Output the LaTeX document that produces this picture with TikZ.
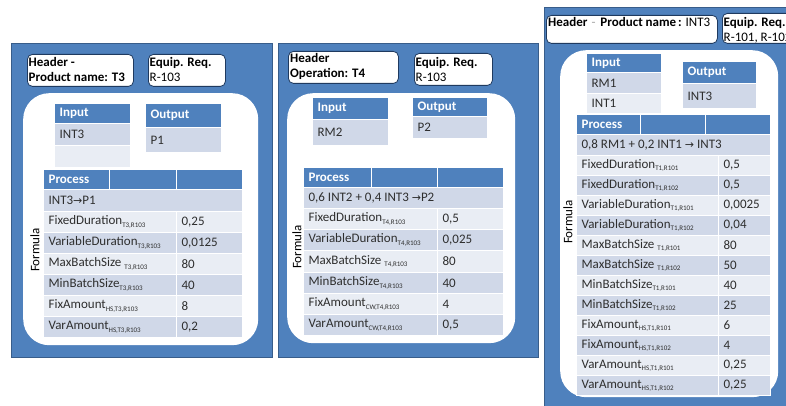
\documentclass[tikz,border=0pt]{standalone}
\usepackage{fontspec}
\setmainfont{Carlito}
\newfontfamily\symf{DejaVu Sans}
\definecolor{pblue}{HTML}{4F81BD}
\definecolor{pedge}{HTML}{385D8A}
\definecolor{cdark}{HTML}{D0D8E8}
\definecolor{clight}{HTML}{E9EDF4}
\definecolor{ctext}{HTML}{2E2E2E}
\definecolor{hedge}{HTML}{1F3A5F}
\newcommand\ssub[1]{\raisebox{-2.6pt}{\fontsize{7}{8}\selectfont #1}}
\newcommand\arr{{\symf\fontsize{11}{12}\selectfont →}}
\newcommand\hd[1]{{\color{white}\bfseries #1}}
\newcommand\cel[7]{% name, x1, y1, x2, y2, fill, text
  \pgfmathsetmacro\celw{#4-#2}\pgfmathsetmacro\celh{#5-#3}%
  \node[cell,fill=#6,minimum width=\celw pt,minimum height=\celh pt] (#1) at (#2,#3) {\makebox[\celw pt][l]{\hspace{5pt}#7}};}
\newcommand\prow[9]{% name, x1, xs, x2, y1, y2, fill, param, value
  \cel{#1a}{#2}{#5}{#3}{#6}{#7}{#8}\cel{#1b}{#3}{#5}{#4}{#6}{#7}{#9}}
\tikzset{
  panel/.style={fill=pblue, draw=pedge, line width=1.2pt, anchor=north west, inner sep=0pt},
  warea/.style={fill=white, rounded corners=26pt, anchor=north west, inner sep=0pt},
  hbox/.style={fill=white, draw=hedge, line width=0.8pt, rounded corners=5pt, anchor=north west, inner sep=0pt},
  htext/.style={anchor=north west, inner sep=0pt, align=left, text=black, font=\fontsize{13}{15}\selectfont},
  cell/.style={draw=white, line width=1.2pt, anchor=north west, inner sep=0pt, text=ctext},
  vlabel/.style={rotate=90, text=black, inner sep=0pt},
}
\begin{document}
\begin{tikzpicture}[x=1pt,y=-1pt,font=\fontsize{13}{15}\selectfont]
\useasboundingbox (0,0) rectangle (786,406);
\clip (0,0) rectangle (786,406);
% ---------------- Panel 1 ----------------
\node[panel, minimum width=261pt, minimum height=314pt] (p1) at (11,43) {};
\node[hbox, minimum width=106pt, minimum height=32pt] (h1) at (27,54) {};
\node[htext] (h1t) at (28.5,57) {\bfseries Header -\\\bfseries Product name: T3};
\node[hbox, minimum width=77pt, minimum height=32pt] (e1) at (148,54) {};
\node[htext] (e1t) at (149.5,57) {\bfseries Equip. Req.\\R-103};
\node[warea, minimum width=235pt, minimum height=252pt] (w1) at (23,93) {};
\cel{i1h}{54}{103}{130}{123}{pblue}{\hd{Input}}
\cel{i1a}{54}{123}{130}{145}{cdark}{INT3}
\cel{i1b}{54}{145}{130}{167}{clight}{}
\cel{o1h}{145}{103}{221}{127}{pblue}{\hd{Output}}
\cel{o1a}{145}{127}{221}{152}{cdark}{P1}
\cel{r1h}{43}{169}{109}{189}{pblue}{\hd{Process}}
\cel{r1hb}{109}{169}{176}{189}{pblue}{}
\cel{r1hc}{176}{169}{242}{189}{pblue}{}
\cel{r1f}{43}{189}{242}{211}{cdark}{INT3\arr P1}
\prow{r1p}{43}{176}{242}{211}{232}{clight}{FixedDuration\ssub{T3,R103}}{0,25}
\prow{r1q}{43}{176}{242}{232}{253}{cdark}{VariableDuration\ssub{T3,R103}}{0,0125}
\prow{r1r}{43}{176}{242}{253}{274}{clight}{MaxBatchSize \ssub{T3,R103}}{80}
\prow{r1s}{43}{176}{242}{274}{295}{cdark}{MinBatchSize\ssub{T3,R103}}{40}
\prow{r1t}{43}{176}{242}{295}{316}{clight}{FixAmount\ssub{HS,T3,R103}}{8}
\prow{r1u}{43}{176}{242}{316}{337}{cdark}{VarAmount\ssub{HS,T3,R103}}{0,2}
\node[vlabel] (f1) at (35,250) {Formula};
% ---------------- Panel 2 ----------------
\node[panel, minimum width=260pt, minimum height=314pt] (p2) at (278,43) {};
\node[hbox, minimum width=110pt, minimum height=32pt] (h2) at (288,51) {};
\node[htext] (h2t) at (290,53.5) {\bfseries Header\\\bfseries Operation: T4};
\node[hbox, minimum width=78pt, minimum height=32pt] (e2) at (414,53) {};
\node[htext] (e2t) at (415.5,57.5) {\bfseries Equip. Req.\\R-103};
\node[warea, minimum width=228pt, minimum height=250pt] (w2) at (287,93) {};
\cel{i2h}{312}{97}{388}{119}{pblue}{\hd{Input}}
\cel{i2a}{312}{119}{388}{145}{cdark}{RM2}
\cel{o2h}{412}{97}{487}{116}{pblue}{\hd{Output}}
\cel{o2a}{412}{116}{487}{138}{cdark}{P2}
\cel{r2h}{303}{167}{371}{187}{pblue}{\hd{Process}}
\cel{r2hb}{371}{167}{437}{187}{pblue}{}
\cel{r2hc}{437}{167}{503}{187}{pblue}{}
\cel{r2f}{303}{187}{503}{208}{cdark}{0,6 INT2 + 0,4 INT3 \arr P2}
\prow{r2p}{303}{437}{503}{208}{229}{clight}{FixedDuration\ssub{T4,R103}}{0,5}
\prow{r2q}{303}{437}{503}{229}{250}{cdark}{VariableDuration\ssub{T4,R103}}{0,025}
\prow{r2r}{303}{437}{503}{250}{272}{clight}{MaxBatchSize \ssub{T4,R103}}{80}
\prow{r2s}{303}{437}{503}{272}{293}{cdark}{MinBatchSize\ssub{T4,R103}}{40}
\prow{r2t}{303}{437}{503}{293}{314}{clight}{FixAmount\ssub{CW,T4,R103}}{4}
\prow{r2u}{303}{437}{503}{314}{335}{cdark}{VarAmount\ssub{CW,T4,R103}}{0,5}
\node[vlabel] (f2) at (297,247) {Formula};
% ---------------- Panel 3 ----------------
\node[panel, minimum width=260pt, minimum height=410pt] (p3) at (544,7) {};
\node[hbox, minimum width=171pt, minimum height=28pt] (h3) at (546,15) {};
\node[htext] (h3t) at (548,17) {\bfseries Header\hspace{4pt}{\mdseries\color{gray!70}-}\hspace{5pt}Product name\hspace{2pt}:\mdseries{} INT3};
\node[hbox, minimum width=80pt, minimum height=30pt] (e3) at (722,13) {};
\node[htext] (e3t) at (723.5,17) {\bfseries Equip. Req.\\R-101, R-102};
\node[warea, minimum width=218pt, minimum height=347pt] (w3) at (560,50) {};
\cel{i3h}{586}{53}{661}{72}{pblue}{\hd{Input}}
\cel{i3a}{586}{72}{661}{93}{cdark}{RM1}
\cel{i3b}{586}{93}{661}{113}{clight}{INT1}
\cel{o3h}{682}{61}{756}{83}{pblue}{\hd{Output}}
\cel{o3a}{682}{83}{756}{108}{cdark}{INT3}
\cel{r3h}{576}{114}{640}{134}{pblue}{\hd{Process}}
\cel{r3hb}{640}{114}{705}{134}{pblue}{}
\cel{r3hc}{705}{114}{770}{134}{pblue}{}
\cel{r3f}{576}{134}{770}{155}{cdark}{0,8 RM1 + 0,2 INT1 \arr{} INT3}
\prow{r3a}{576}{718}{770}{155}{175}{clight}{FixedDuration\ssub{T1,R101}}{0,5}
\prow{r3b}{576}{718}{770}{175}{195}{cdark}{FixedDuration\ssub{T1,R102}}{0,5}
\prow{r3c}{576}{718}{770}{195}{215}{clight}{VariableDuration\ssub{T1,R101}}{0,0025}
\prow{r3d}{576}{718}{770}{215}{235}{cdark}{VariableDuration\ssub{T1,R102}}{0,04}
\prow{r3e}{576}{718}{770}{235}{255}{clight}{MaxBatchSize \ssub{T1,R101}}{80}
\prow{r3f}{576}{718}{770}{255}{275}{cdark}{MaxBatchSize \ssub{T1,R102}}{50}
\prow{r3g}{576}{718}{770}{275}{295}{clight}{MinBatchSize\ssub{T1,R101}}{40}
\prow{r3h}{576}{718}{770}{295}{315}{cdark}{MinBatchSize\ssub{T1,R102}}{25}
\prow{r3i}{576}{718}{770}{315}{335}{clight}{FixAmount\ssub{HS,T1,R101}}{6}
\prow{r3j}{576}{718}{770}{335}{355}{cdark}{FixAmount\ssub{HS,T1,R102}}{4}
\prow{r3k}{576}{718}{770}{355}{375}{clight}{VarAmount\ssub{HS,T1,R101}}{0,25}
\prow{r3l}{576}{718}{770}{375}{395}{cdark}{VarAmount\ssub{HS,T1,R102}}{0,25}
\node[vlabel] (f3) at (568,222) {Formula};
\end{tikzpicture}
\end{document}
